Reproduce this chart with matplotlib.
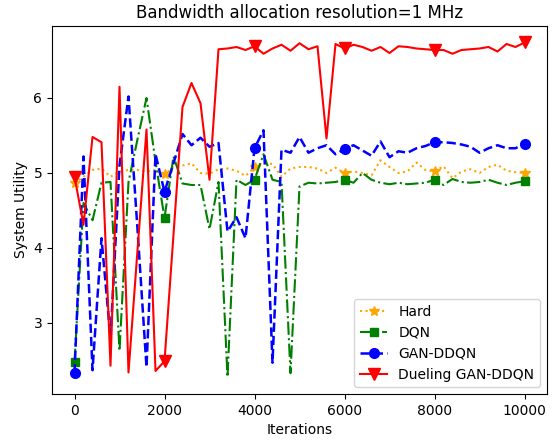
import matplotlib
matplotlib.use("Agg")
import matplotlib.pyplot as plt
import numpy as np

iterations = list(range(0, 10001, 200))

hard = [4.86, 4.95, 5.04, 5.06, 4.95, 5.02, 5.04, 5.04, 5.02, 5.04,
        4.98, 5.08, 5.10, 5.13, 5.00, 4.99, 5.05, 5.06, 5.03, 4.96,
        5.08, 5.13, 5.12, 4.95, 5.06, 5.08, 5.08, 5.06, 5.00, 5.07,
        5.00, 5.02, 5.00, 4.97, 5.17, 5.08, 5.00, 5.02, 5.14, 5.04,
        5.02, 5.09, 4.93, 5.02, 5.05, 5.00, 5.08, 5.11, 5.03, 5.01,
        5.00]

dqn = [2.48, 4.60, 4.37, 4.87, 4.88, 2.63, 4.88, 5.45, 6.00, 5.15,
       4.40, 5.22, 4.86, 4.84, 4.84, 4.25, 4.88, 2.28, 4.91, 4.84,
       4.91, 5.25, 4.91, 4.88, 2.33, 4.82, 4.87, 4.86, 4.87, 4.88,
       4.91, 4.87, 5.00, 4.91, 4.87, 4.85, 4.87, 4.85, 4.86, 4.87,
       4.91, 4.84, 4.92, 4.88, 4.87, 4.88, 4.91, 4.87, 4.84, 4.87,
       4.89]

gan_ddqn = [2.33, 5.22, 2.37, 4.13, 2.80, 5.10, 6.02, 4.25, 2.41, 5.25,
            4.75, 5.13, 5.52, 5.37, 5.47, 5.35, 5.40, 4.22, 4.41, 4.13,
            5.33, 5.57, 2.47, 5.31, 5.27, 5.48, 5.27, 5.33, 5.37, 5.25,
            5.32, 5.37, 5.30, 5.23, 5.42, 5.21, 5.29, 5.27, 5.33, 5.36,
            5.41, 5.41, 5.40, 5.38, 5.35, 5.27, 5.33, 5.37, 5.33, 5.33,
            5.39]

dueling = [4.95, 4.31, 5.48, 5.41, 2.43, 6.15, 2.34, 3.97, 5.58, 2.36,
           2.49, 4.18, 5.88, 6.20, 5.93, 4.91, 6.65, 6.66, 6.68, 6.64,
           6.69, 6.59, 6.66, 6.71, 6.63, 6.73, 6.65, 6.69, 5.46, 6.72,
           6.66, 6.71, 6.68, 6.63, 6.68, 6.60, 6.69, 6.68, 6.66, 6.65,
           6.64, 6.64, 6.59, 6.64, 6.65, 6.66, 6.68, 6.62, 6.72, 6.68,
           6.74]

fig = plt.figure(figsize=(5.57, 4.43), dpi=100)
ax = fig.add_axes([52/557, 1-394/443, (547-52)/557, (394-26)/443])

ax.plot(iterations, hard, color='orange', linestyle=':', marker='*',
        markersize=7, markevery=10, linewidth=1.5, label='Hard')
ax.plot(iterations, dqn, color='green', linestyle='-.', marker='s',
        markersize=6, markevery=10, linewidth=1.5, label='DQN')
ax.plot(iterations, gan_ddqn, color='blue', linestyle='--', marker='o',
        markersize=7, markevery=10, linewidth=1.8, label='GAN-DDQN')
ax.plot(iterations, dueling, color='red', linestyle='-', marker='v',
        markersize=8, markevery=10, linewidth=1.5, label='Dueling GAN-DDQN')

ax.set_xlim(-500, 10500)
ax.set_ylim(2.053, 6.96)
ax.set_xticks([0, 2000, 4000, 6000, 8000, 10000])
ax.set_yticks([3, 4, 5, 6])
ax.set_xlabel('Iterations')
ax.set_ylabel('System Utility')
ax.set_title('Bandwidth allocation resolution=1 MHz')
ax.legend(loc='lower right')

fig.savefig('out.png', dpi=100)
